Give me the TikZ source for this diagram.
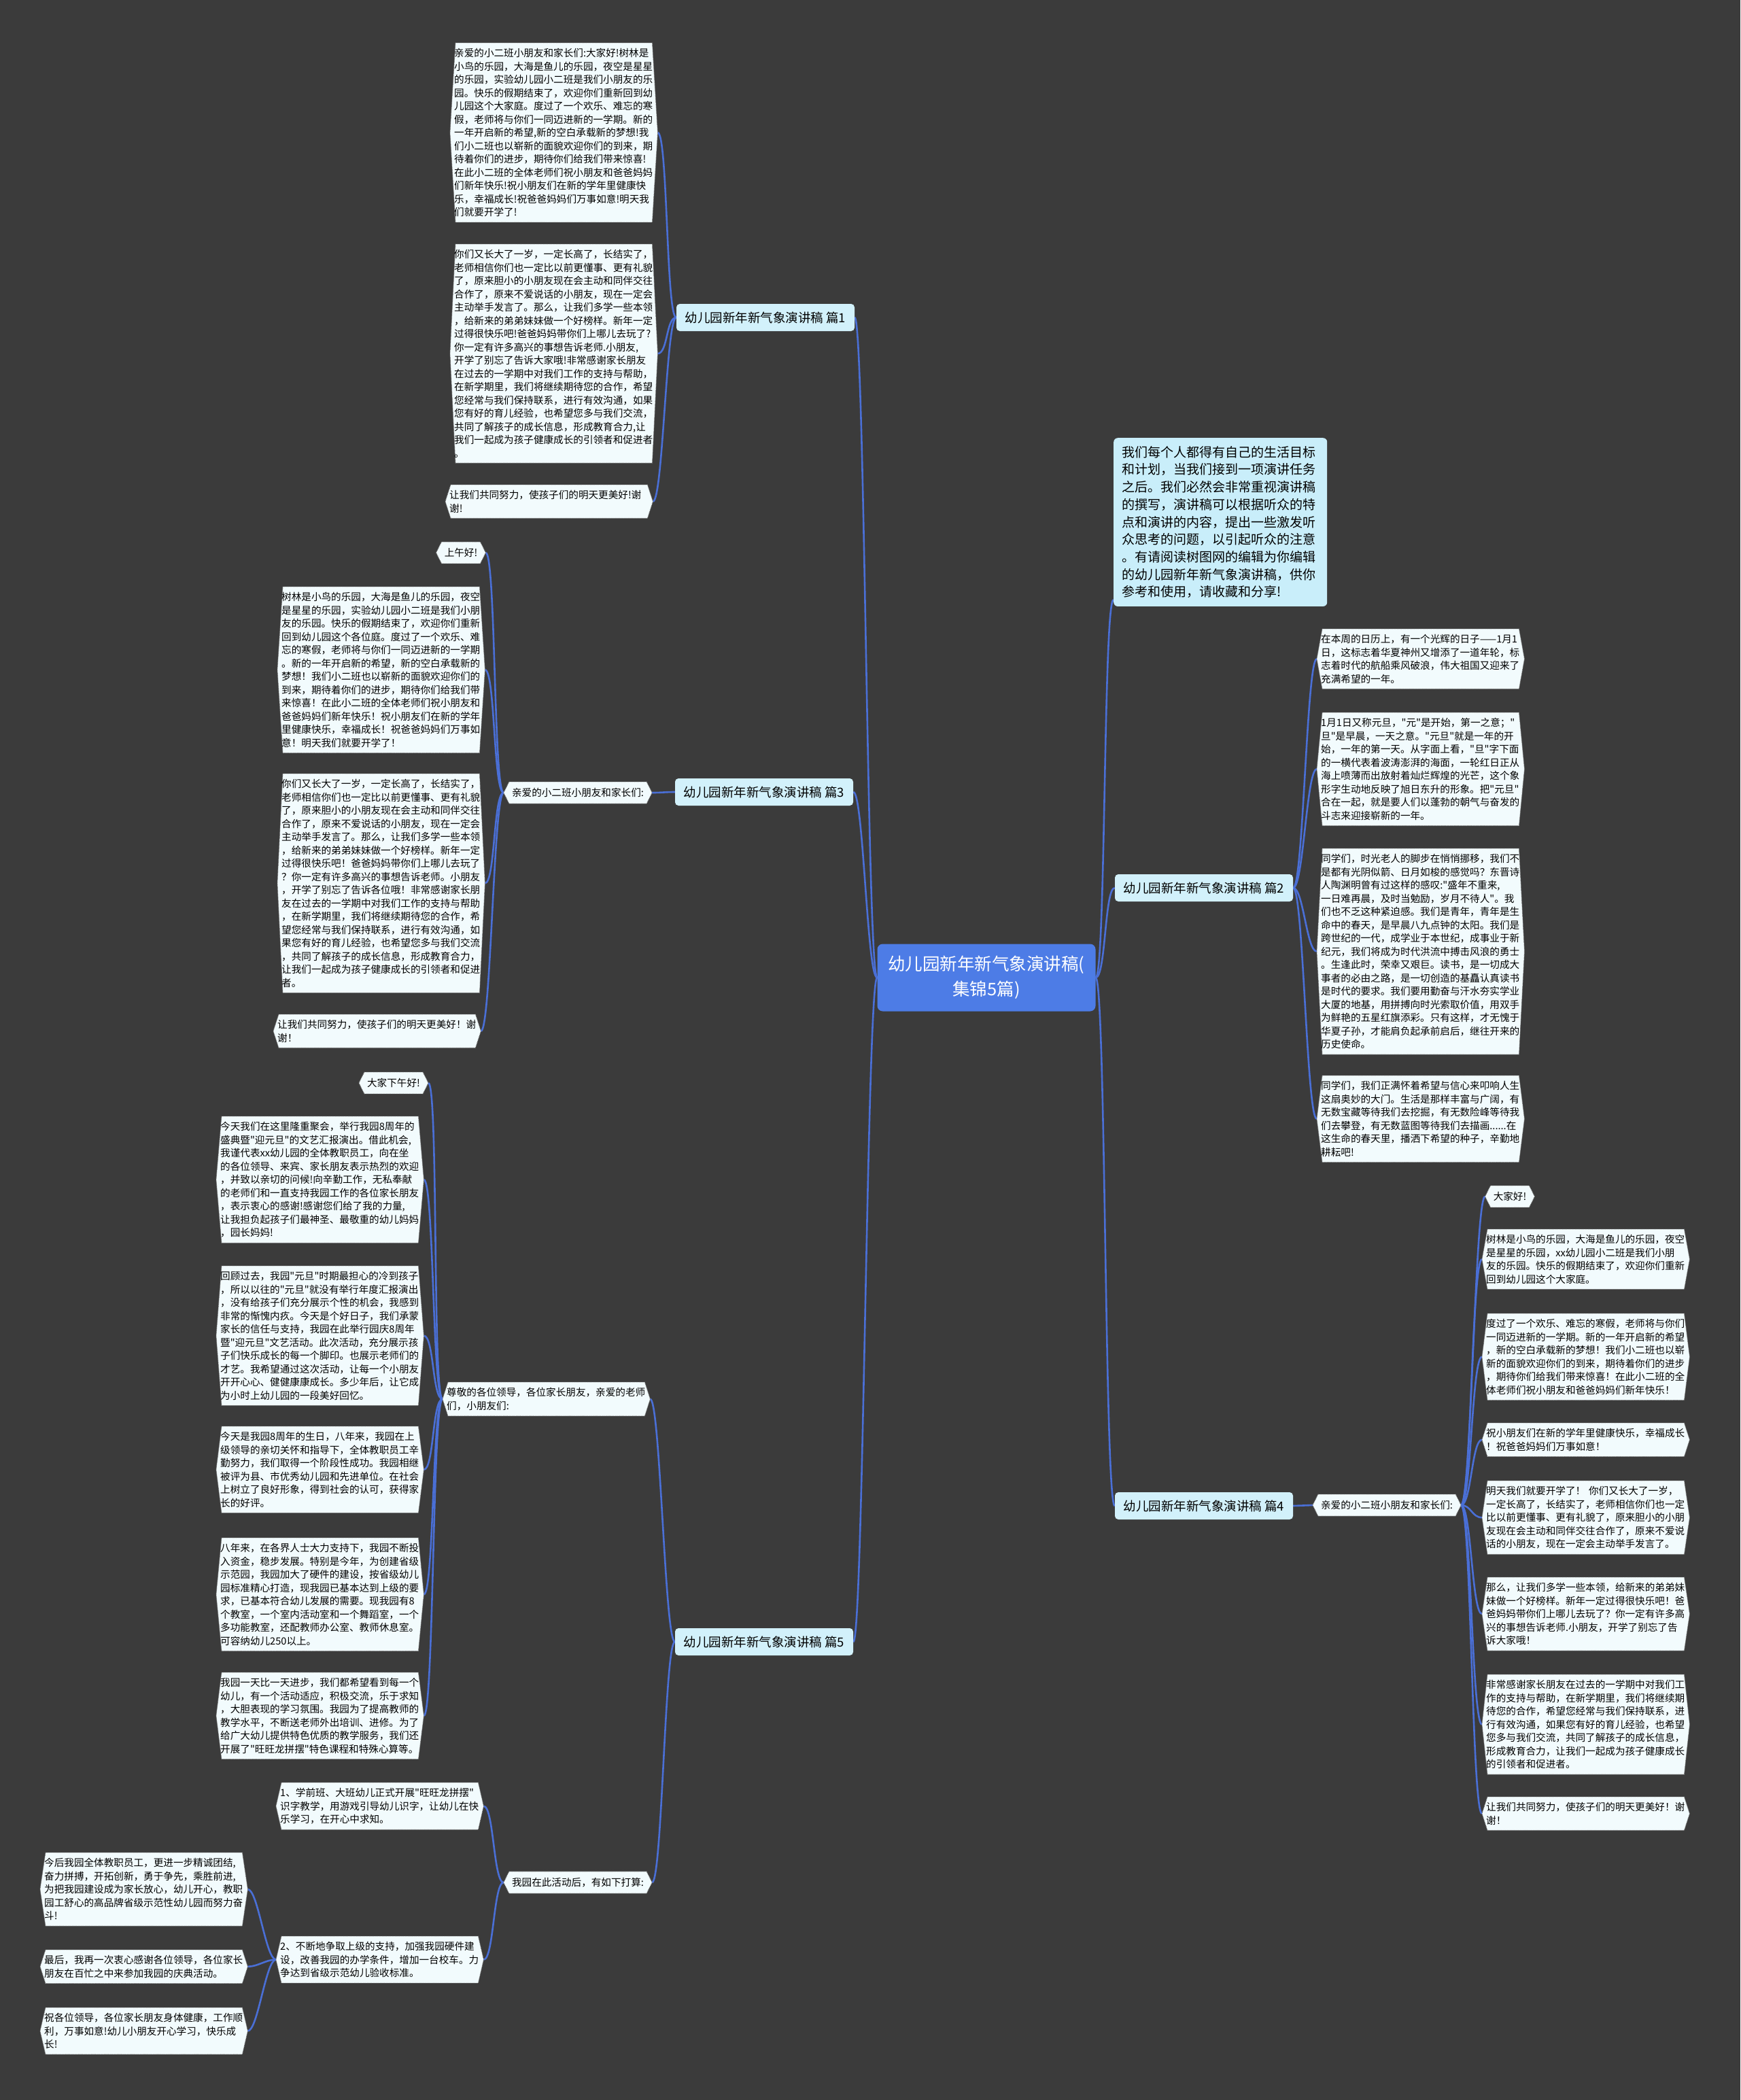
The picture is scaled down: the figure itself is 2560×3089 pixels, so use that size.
\documentclass[tikz,border=0pt]{standalone}
\usepackage{fontspec}
\usepackage{tikz}
\usetikzlibrary{positioning}
\newfontfamily\cjk{Noto Sans CJK SC}
\definecolor{mapbg}{HTML}{3B3B3B}
\definecolor{maplink}{HTML}{4A6FD6}
\definecolor{mapcore}{HTML}{4D7CE6}
\definecolor{mapbranch}{HTML}{D2F1FB}
\definecolor{mapbox}{HTML}{F2FBFD}
\definecolor{mapintro}{HTML}{C9EEFA}
\pgfdeclarelayer{background}
\pgfsetlayers{background,main}
% hexagon outline behind a text node
\newcommand\hexbox[1]{%
  \path[boxshape] ([xshift=8pt]#1.north west) -- ([xshift=-8pt]#1.north east) -- (#1.east)
    -- ([xshift=-8pt]#1.south east) -- ([xshift=8pt]#1.south west) -- (#1.west) -- cycle;}

\begin{document}
\begin{tikzpicture}[
  x=1pt,y=-1pt,
  core/.style={fill=mapcore,rounded corners=8pt,text=white,align=center,minimum width=321pt,minimum height=99pt,font=\cjk\fontsize{25.5}{37}\selectfont},
  branch/.style={fill=mapbranch,rounded corners=5pt,minimum width=262pt,minimum height=40pt,inner sep=3pt,font=\cjk\fontsize{18.5}{22}\selectfont},
  intro/.style={fill=mapintro,rounded corners=6pt,anchor=north west,align=left,text width=290pt,inner xsep=12pt,inner ysep=12pt,font=\cjk\fontsize{19}{25.7}\selectfont},
  txt/.style={anchor=north west,align=left,text width=293pt,inner xsep=6pt,inner ysep=8pt,font=\cjk\fontsize{14.6}{19.5}\selectfont},
  tag/.style={inner xsep=12pt,inner ysep=9pt,font=\cjk\fontsize{14.6}{19.5}\selectfont},
  boxshape/.style={fill=mapbox,draw=black!55,densely dotted,line width=0.9pt},
  link/.style={draw=maplink,line width=2.6pt}
]
\useasboundingbox (0,0) rectangle (2560,3089);

% centre and branches
\node[core] (core) at (1451,1438) {幼儿园新年新气象演讲稿(\\集锦5篇)};
\node[branch] (p1) at (1126,467) {幼儿园新年新气象演讲稿 篇1};
\node[branch] (p3) at (1124,1165) {幼儿园新年新气象演讲稿 篇3};
\node[branch] (p5) at (1124,2415) {幼儿园新年新气象演讲稿 篇5};
\node[branch] (p2) at (1771,1306) {幼儿园新年新气象演讲稿 篇2};
\node[branch] (p4) at (1771,2215) {幼儿园新年新气象演讲稿 篇4};
\node[intro] (intro) at (1638,644) {我们每个人都得有自己的生活目标\\和计划，当我们接到一项演讲任务\\之后。我们必然会非常重视演讲稿\\的撰写，演讲稿可以根据听众的特\\点和演讲的内容，提出一些激发听\\众思考的问题，以引起听众的注意\\。有请阅读树图网的编辑为你编辑\\的幼儿园新年新气象演讲稿，供你\\参考和使用，请收藏和分享!};

% 篇1
\node[txt] (a1) at (662,63) {亲爱的小二班小朋友和家长们:大家好!树林是\\小鸟的乐园，大海是鱼儿的乐园，夜空是星星\\的乐园，实验幼儿园小二班是我们小朋友的乐\\园。快乐的假期结束了，欢迎你们重新回到幼\\儿园这个大家庭。度过了一个欢乐、难忘的寒\\假，老师将与你们一同迈进新的一学期。新的\\一年开启新的希望,新的空白承载新的梦想!我\\们小二班也以崭新的面貌欢迎你们的到来，期\\待着你们的进步，期待你们给我们带来惊喜!\\在此小二班的全体老师们祝小朋友和爸爸妈妈\\们新年快乐!祝小朋友们在新的学年里健康快\\乐，幸福成长!祝爸爸妈妈们万事如意!明天我\\们就要开学了!};
\node[txt] (a2) at (662,359) {你们又长大了一岁，一定长高了，长结实了，\\老师相信你们也一定比以前更懂事、更有礼貌\\了，原来胆小的小朋友现在会主动和同伴交往\\合作了，原来不爱说话的小朋友，现在一定会\\主动举手发言了。那么，让我们多学一些本领\\，给新来的弟弟妹妹做一个好榜样。新年一定\\过得很快乐吧!爸爸妈妈带你们上哪儿去玩了?\\你一定有许多高兴的事想告诉老师.小朋友,\\开学了别忘了告诉大家哦!非常感谢家长朋友\\在过去的一学期中对我们工作的支持与帮助，\\在新学期里，我们将继续期待您的合作，希望\\您经常与我们保持联系，进行有效沟通，如果\\您有好的育儿经验，也希望您多与我们交流，\\共同了解孩子的成长信息，形成教育合力,让\\我们一起成为孩子健康成长的引领者和促进者\\。};
\node[txt] (a3) at (655,713) {让我们共同努力，使孩子们的明天更美好!谢\\谢!};

% 篇3
\node[tag] (s3) at (850,1166) {亲爱的小二班小朋友和家长们:};
\node[tag] (b0) at (678,813) {上午好!};
\node[txt] (b1) at (408,863) {树林是小鸟的乐园，大海是鱼儿的乐园，夜空\\是星星的乐园，实验幼儿园小二班是我们小朋\\友的乐园。快乐的假期结束了，欢迎你们重新\\回到幼儿园这个各位庭。度过了一个欢乐、难\\忘的寒假，老师将与你们一同迈进新的一学期\\。新的一年开启新的希望，新的空白承载新的\\梦想！我们小二班也以崭新的面貌欢迎你们的\\到来，期待着你们的进步，期待你们给我们带\\来惊喜！在此小二班的全体老师们祝小朋友和\\爸爸妈妈们新年快乐！祝小朋友们在新的学年\\里健康快乐，幸福成长！祝爸爸妈妈们万事如\\意！明天我们就要开学了！};
\node[txt] (b2) at (408,1138) {你们又长大了一岁，一定长高了，长结实了，\\老师相信你们也一定比以前更懂事、更有礼貌\\了，原来胆小的小朋友现在会主动和同伴交往\\合作了，原来不爱说话的小朋友，现在一定会\\主动举手发言了。那么，让我们多学一些本领\\，给新来的弟弟妹妹做一个好榜样。新年一定\\过得很快乐吧！爸爸妈妈带你们上哪儿去玩了\\？你一定有许多高兴的事想告诉老师。小朋友\\，开学了别忘了告诉各位哦！非常感谢家长朋\\友在过去的一学期中对我们工作的支持与帮助\\，在新学期里，我们将继续期待您的合作，希\\望您经常与我们保持联系，进行有效沟通，如\\果您有好的育儿经验，也希望您多与我们交流\\，共同了解孩子的成长信息，形成教育合力，\\让我们一起成为孩子健康成长的引领者和促进\\者。};
\node[txt] (b3) at (402,1492) {让我们共同努力，使孩子们的明天更美好！谢\\谢！};

% 篇5
\node[txt] (s5a) at (651,2033) {尊敬的各位领导，各位家长朋友，亲爱的老师\\们，小朋友们:};
\node[tag] (c0) at (579,1593) {大家下午好!};
\node[txt] (c1) at (318,1642) {今天我们在这里隆重聚会，举行我园8周年的\\盛典暨"迎元旦"的文艺汇报演出。借此机会,\\我谨代表xx幼儿园的全体教职员工，向在坐\\的各位领导、来宾、家长朋友表示热烈的欢迎\\，并致以亲切的问候!向辛勤工作，无私奉献\\的老师们和一直支持我园工作的各位家长朋友\\，表示衷心的感谢!感谢您们给了我的力量,\\让我担负起孩子们最神圣、最敬重的幼儿妈妈\\，园长妈妈!};
\node[txt] (c2) at (318,1862) {回顾过去，我园"元旦"时期最担心的冷到孩子\\，所以以往的"元旦"就没有举行年度汇报演出\\，没有给孩子们充分展示个性的机会，我感到\\非常的惭愧内疚。今天是个好日子，我们承蒙\\家长的信任与支持，我园在此举行园庆8周年\\暨"迎元旦"文艺活动。此次活动，充分展示孩\\子们快乐成长的每一个脚印。也展示老师们的\\才艺。我希望通过这次活动，让每一个小朋友\\开开心心、健健康康成长。多少年后，让它成\\为小时上幼儿园的一段美好回忆。};
\node[txt] (c3) at (318,2098) {今天是我园8周年的生日，八年来，我园在上\\级领导的亲切关怀和指导下，全体教职员工辛\\勤努力，我们取得一个阶段性成功。我园相继\\被评为县、市优秀幼儿园和先进单位。在社会\\上树立了良好形象，得到社会的认可，获得家\\长的好评。};
\node[txt] (c4) at (318,2262) {八年来，在各界人士大力支持下，我园不断投\\入资金，稳步发展。特别是今年，为创建省级\\示范园，我园加大了硬件的建设，按省级幼儿\\园标准精心打造，现我园已基本达到上级的要\\求，已基本符合幼儿发展的需要。现我园有8\\个教室，一个室内活动室和一个舞蹈室，一个\\多功能教室，还配教师办公室、教师休息室。\\可容纳幼儿250以上。};
\node[txt] (c5) at (318,2460) {我园一天比一天进步，我们都希望看到每一个\\幼儿，有一个活动适应，积极交流，乐于求知\\，大胆表现的学习氛围。我园为了提高教师的\\教学水平，不断送老师外出培训、进修。为了\\给广大幼儿提供特色优质的教学服务，我们还\\开展了"旺旺龙拼摆"特色课程和特殊心算等。};
\node[tag] (s5b) at (850,2769) {我园在此活动后，有如下打算:};
\node[txt] (d1) at (406,2622) {1、学前班、大班幼儿正式开展"旺旺龙拼摆"\\识字教学，用游戏引导幼儿识字，让幼儿在快\\乐学习，在开心中求知。};
\node[txt] (d2) at (406,2848) {2、不断地争取上级的支持，加强我园硬件建\\设，改善我园的办学条件，增加一台校车。力\\争达到省级示范幼儿验收标准。};
\node[txt] (e1) at (59,2725) {今后我园全体教职员工，更进一步精诚团结,\\奋力拼搏，开拓创新，勇于争先，乘胜前进,\\为把我园建设成为家长放心，幼儿开心，教职\\园工舒心的高品牌省级示范性幼儿园而努力奋\\斗!};
\node[txt] (e2) at (59,2868) {最后，我再一次衷心感谢各位领导，各位家长\\朋友在百忙之中来参加我园的庆典活动。};
\node[txt] (e3) at (59,2953) {祝各位领导，各位家长朋友身体健康，工作顺\\利，万事如意!幼儿小朋友开心学习，快乐成\\长!};

% 篇2
\node[txt] (f1) at (1937,925) {在本周的日历上，有一个光辉的日子——1月1\\日，这标志着华夏神州又增添了一道年轮，标\\志着时代的航船乘风破浪，伟大祖国又迎来了\\充满希望的一年。};
\node[txt] (f2) at (1937,1048) {1月1日又称元旦，"元"是开始，第一之意；"\\旦"是早晨，一天之意。"元旦"就是一年的开\\始，一年的第一天。从字面上看，"旦"字下面\\的一横代表着波涛澎湃的海面，一轮红日正从\\海上喷薄而出放射着灿烂辉煌的光芒，这个象\\形字生动地反映了旭日东升的形象。把"元旦"\\合在一起，就是要人们以蓬勃的朝气与奋发的\\斗志来迎接崭新的一年。};
\node[txt] (f3) at (1937,1248) {同学们，时光老人的脚步在悄悄挪移，我们不\\是都有光阴似箭、日月如梭的感觉吗？东晋诗\\人陶渊明曾有过这样的感叹:"盛年不重来,\\一日难再晨，及时当勉励，岁月不待人"。我\\们也不乏这种紧迫感。我们是青年，青年是生\\命中的春天，是早晨八九点钟的太阳。我们是\\跨世纪的一代，成学业于本世纪，成事业于新\\纪元，我们将成为时代洪流中搏击风浪的勇士\\。生逢此时，荣幸又艰巨。读书，是一切成大\\事者的必由之路，是一切创造的基矗认真读书\\是时代的要求。我们要用勤奋与汗水夯实学业\\大厦的地基，用拼搏向时光索取价值，用双手\\为鲜艳的五星红旗添彩。只有这样，才无愧于\\华夏子孙，才能肩负起承前启后，继往开来的\\历史使命。};
\node[txt] (f4) at (1937,1582) {同学们，我们正满怀着希望与信心来叩响人生\\这扇奥妙的大门。生活是那样丰富与广阔，有\\无数宝藏等待我们去挖掘，有无数险峰等待我\\们去攀登，有无数蓝图等待我们去描画......在\\这生命的春天里，播洒下希望的种子，辛勤地\\耕耘吧!};

% 篇4
\node[tag] (s4) at (2040,2214) {亲爱的小二班小朋友和家长们:};
\node[tag] (g0) at (2221,1760) {大家好!};
\node[txt] (g1) at (2180,1808) {树林是小鸟的乐园，大海是鱼儿的乐园，夜空\\是星星的乐园，xx幼儿园小二班是我们小朋\\友的乐园。快乐的假期结束了，欢迎你们重新\\回到幼儿园这个大家庭。};
\node[txt] (g2) at (2180,1932) {度过了一个欢乐、难忘的寒假，老师将与你们\\一同迈进新的一学期。新的一年开启新的希望\\，新的空白承载新的梦想！我们小二班也以崭\\新的面貌欢迎你们的到来，期待着你们的进步\\，期待你们给我们带来惊喜！在此小二班的全\\体老师们祝小朋友和爸爸妈妈们新年快乐！};
\node[txt] (g3) at (2180,2093) {祝小朋友们在新的学年里健康快乐，幸福成长\\！祝爸爸妈妈们万事如意！};
\node[txt] (g4) at (2180,2178) {明天我们就要开学了！ 你们又长大了一岁，\\一定长高了，长结实了，老师相信你们也一定\\比以前更懂事、更有礼貌了，原来胆小的小朋\\友现在会主动和同伴交往合作了，原来不爱说\\话的小朋友，现在一定会主动举手发言了。};
\node[txt] (g5) at (2180,2320) {那么，让我们多学一些本领，给新来的弟弟妹\\妹做一个好榜样。新年一定过得很快乐吧！爸\\爸妈妈带你们上哪儿去玩了？你一定有许多高\\兴的事想告诉老师.小朋友，开学了别忘了告\\诉大家哦！};
\node[txt] (g6) at (2180,2463) {非常感谢家长朋友在过去的一学期中对我们工\\作的支持与帮助，在新学期里，我们将继续期\\待您的合作，希望您经常与我们保持联系，进\\行有效沟通，如果您有好的育儿经验，也希望\\您多与我们交流，共同了解孩子的成长信息，\\形成教育合力，让我们一起成为孩子健康成长\\的引领者和促进者。};
\node[txt] (g7) at (2180,2643) {让我们共同努力，使孩子们的明天更美好！谢\\谢！};

\begin{pgfonlayer}{background}
\fill[mapbg] (0,0) rectangle (2560,3089);
% connectors, left half
\foreach \c in {p1,p3,p5}
  \draw[link] (core.west) .. controls +(-15,0) and +(15,0) .. (\c.east);
\foreach \c in {a1,a2,a3}
  \draw[link] (p1.west) .. controls +(-15,0) and +(15,0) .. (\c.east);
\draw[link] (p3.west) .. controls +(-15,0) and +(15,0) .. (s3.east);
\foreach \c in {b0,b1,b2,b3}
  \draw[link] (s3.west) .. controls +(-15,0) and +(15,0) .. (\c.east);
\foreach \c in {s5a,s5b}
  \draw[link] (p5.west) .. controls +(-15,0) and +(15,0) .. (\c.east);
\foreach \c in {c0,c1,c2,c3,c4,c5}
  \draw[link] (s5a.west) .. controls +(-15,0) and +(15,0) .. (\c.east);
\foreach \c in {d1,d2}
  \draw[link] (s5b.west) .. controls +(-15,0) and +(15,0) .. (\c.east);
\foreach \c in {e1,e2,e3}
  \draw[link] (d2.west) .. controls +(-15,0) and +(15,0) .. (\c.east);
% connectors, right half
\draw[link] (core.east) .. controls +(15,0) and +(-15,0) .. ([yshift=10pt]intro.south west);
\foreach \c in {p2,p4}
  \draw[link] (core.east) .. controls +(15,0) and +(-15,0) .. (\c.west);
\foreach \c in {f1,f2,f3,f4}
  \draw[link] (p2.east) .. controls +(15,0) and +(-15,0) .. (\c.west);
\draw[link] (p4.east) .. controls +(15,0) and +(-15,0) .. (s4.west);
\foreach \c in {g0,g1,g2,g3,g4,g5,g6,g7}
  \draw[link] (s4.east) .. controls +(15,0) and +(-15,0) .. (\c.west);
% box outlines
\foreach \n in {a1,a2,a3,s3,b0,b1,b2,b3,s5a,c0,c1,c2,c3,c4,c5,s5b,d1,d2,e1,e2,e3,f1,f2,f3,f4,s4,g0,g1,g2,g3,g4,g5,g6,g7}
  \hexbox{\n};
\end{pgfonlayer}
\end{tikzpicture}
\end{document}
